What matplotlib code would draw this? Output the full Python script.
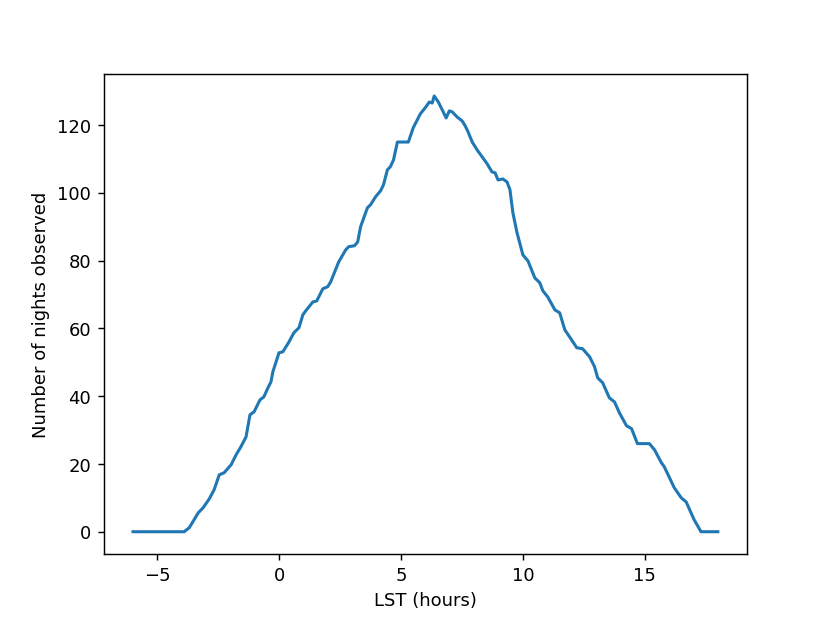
import numpy as np
import matplotlib
matplotlib.use("Agg")
import matplotlib.pyplot as plt

# LST in hours and number of nights
lst = [-6.0, -3.9, -3.69, -3.32, -3.12, -2.87, -2.67, -2.46, -2.26, -1.97,
       -1.77, -1.57, -1.36, -1.20, -1.03, -0.79, -0.63, -0.46, -0.34, -0.26,
       -0.01, 0.15, 0.40, 0.60, 0.81, 0.97, 1.09, 1.38, 1.54, 1.79,
       1.99, 2.11, 2.44, 2.73, 2.85, 3.09, 3.22, 3.34, 3.62, 3.75,
       3.95, 4.16, 4.28, 4.44, 4.56, 4.69, 4.85, 5.30, 5.50, 5.79,
       5.99, 6.08, 6.16, 6.28, 6.36, 6.53, 6.69, 6.85, 6.98, 7.10,
       7.30, 7.51, 7.63, 7.75, 7.92, 8.12, 8.33, 8.53, 8.73, 8.86,
       8.98, 9.18, 9.35, 9.47, 9.59, 9.76, 10.00, 10.21, 10.49, 10.69,
       10.82, 11.02, 11.31, 11.51, 11.72, 12.00, 12.21, 12.45, 12.74, 12.94,
       13.07, 13.27, 13.55, 13.76, 13.96, 14.25, 14.46, 14.70, 15.19, 15.40,
       15.68, 15.80, 16.21, 16.50, 16.70, 17.03, 17.31, 18.0]
nights = [0, 0, 1.2, 5.6, 7.1, 9.7, 12.4, 16.8, 17.4, 19.8,
          22.7, 25.1, 28.0, 34.5, 35.4, 38.9, 39.8, 42.5, 44.2, 47.2,
          52.8, 53.1, 56.0, 58.7, 60.2, 64.0, 65.2, 67.8, 68.1, 71.7,
          72.3, 73.7, 79.6, 83.2, 84.1, 84.4, 85.5, 90.0, 95.6, 96.5,
          98.8, 100.6, 102.4, 106.8, 107.7, 109.7, 115.0, 115.0, 119.2, 123.3,
          125.1, 126.0, 126.8, 126.5, 128.6, 126.8, 124.5, 122.1, 124.2, 123.9,
          122.4, 121.2, 119.8, 118.0, 115.0, 112.7, 110.6, 108.6, 106.2, 105.9,
          103.8, 104.1, 103.2, 100.9, 94.1, 88.2, 81.7, 79.9, 74.9, 73.5,
          71.1, 69.3, 65.5, 64.6, 59.6, 56.6, 54.3, 54.0, 51.6, 48.7,
          45.4, 44.0, 39.5, 38.3, 35.1, 31.3, 30.4, 26.0, 26.0, 24.2,
          20.4, 19.2, 13.0, 10.0, 8.8, 3.5, 0, 0]

fig = plt.figure(figsize=(6.4, 4.8), dpi=129.7)
ax = fig.add_subplot(111)
ax.plot(lst, nights, lw=1.7)
ax.set_xlabel('LST (hours)')
ax.set_ylabel('Number of nights observed')

fig.savefig('out.png', dpi=129.7)
